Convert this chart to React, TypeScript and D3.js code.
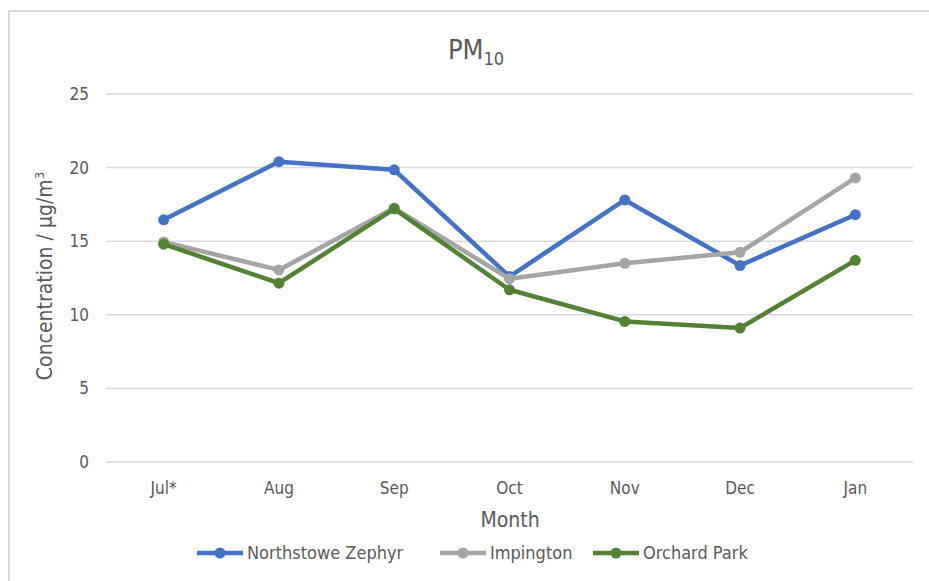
import * as d3 from "d3";

const months = ["Jul*", "Aug", "Sep", "Oct", "Nov", "Dec", "Jan"];
const northstowe = [16.45, 20.4, 19.85, 12.6, 17.8, 13.35, 16.8];
const impington = [14.95, 13.05, 17.25, 12.45, 13.5, 14.25, 19.3];
const orchardPark = [14.8, 12.15, 17.2, 11.7, 9.55, 9.1, 13.7];
const yTicks = [0, 5, 10, 15, 20, 25];

const series = [
  { name: "Northstowe Zephyr", values: northstowe, color: "#4472C4" },
  { name: "Impington", values: impington, color: "#A5A5A5" },
  { name: "Orchard Park", values: orchardPark, color: "#548235" },
];

const width = 929, height = 581;
const plot = { left: 106, right: 913, top: 94, bottom: 462 };
const font = "'Liberation Sans Narrow', 'DejaVu Sans Condensed', 'Open Sans', sans-serif";
const textColor = "#595959";

const App = () => {
  const x = d3.scaleBand().domain(months).range([plot.left, plot.right]);
  const y = d3.scaleLinear().domain([0, 25]).range([plot.bottom, plot.top]);
  const line = d3.line<number>()
    .x((_, i) => (x(months[i]) as number) + x.bandwidth() / 2)
    .y(d => y(d));

  // legend positions (line start x)
  const legendX = [197, 440, 593];

  return (
    <svg width={width} height={height} viewBox={`0 0 ${width} ${height}`}
      style={{ position: "absolute", left: 0, top: 0, background: "#fff", fontFamily: font }}>
      <rect x={9} y={11} width={width + 20} height={height + 20} fill="#fff" stroke="#d9d9d9" strokeWidth={2} />

      <text x={476} y={59} textAnchor="middle" fontSize={27} fill={textColor}>
        PM<tspan fontSize={18} dy={6}>10</tspan>
      </text>

      {yTicks.map(t => (
        <g key={t}>
          <line x1={plot.left} x2={plot.right} y1={y(t)} y2={y(t)} stroke="#d9d9d9" strokeWidth={1.5} />
          <text x={89} y={y(t)} dy="0.35em" textAnchor="end" fontSize={17} fill={textColor}>{t}</text>
        </g>
      ))}

      {months.map(m => (
        <text key={m} x={(x(m) as number) + x.bandwidth() / 2} y={494} textAnchor="middle" fontSize={17} fill={textColor}>{m}</text>
      ))}

      <text x={510} y={527} textAnchor="middle" fontSize={21} fill={textColor}>Month</text>
      <text transform={`translate(52,${276}) rotate(-90)`} textAnchor="middle" fontSize={21} fill={textColor}>
        Concentration / µg/m<tspan fontSize={13} dy={-8}>3</tspan>
      </text>

      {series.map(s => (
        <g key={s.name}>
          <path d={line(s.values) as string} fill="none" stroke={s.color} strokeWidth={4.5} strokeLinejoin="round" />
          {s.values.map((v, i) => (
            <circle key={i} cx={(x(months[i]) as number) + x.bandwidth() / 2} cy={y(v)} r={5.5} fill={s.color} />
          ))}
        </g>
      ))}

      {series.map((s, i) => (
        <g key={s.name} transform={`translate(${legendX[i]},553)`}>
          <line x1={0} x2={46} y1={0} y2={0} stroke={s.color} strokeWidth={4.5} />
          <circle cx={23} cy={0} r={5.5} fill={s.color} />
          <text x={50} y={0} dy="0.35em" fontSize={18} fill={textColor}>{s.name}</text>
        </g>
      ))}
    </svg>
  );
};

export default App;
